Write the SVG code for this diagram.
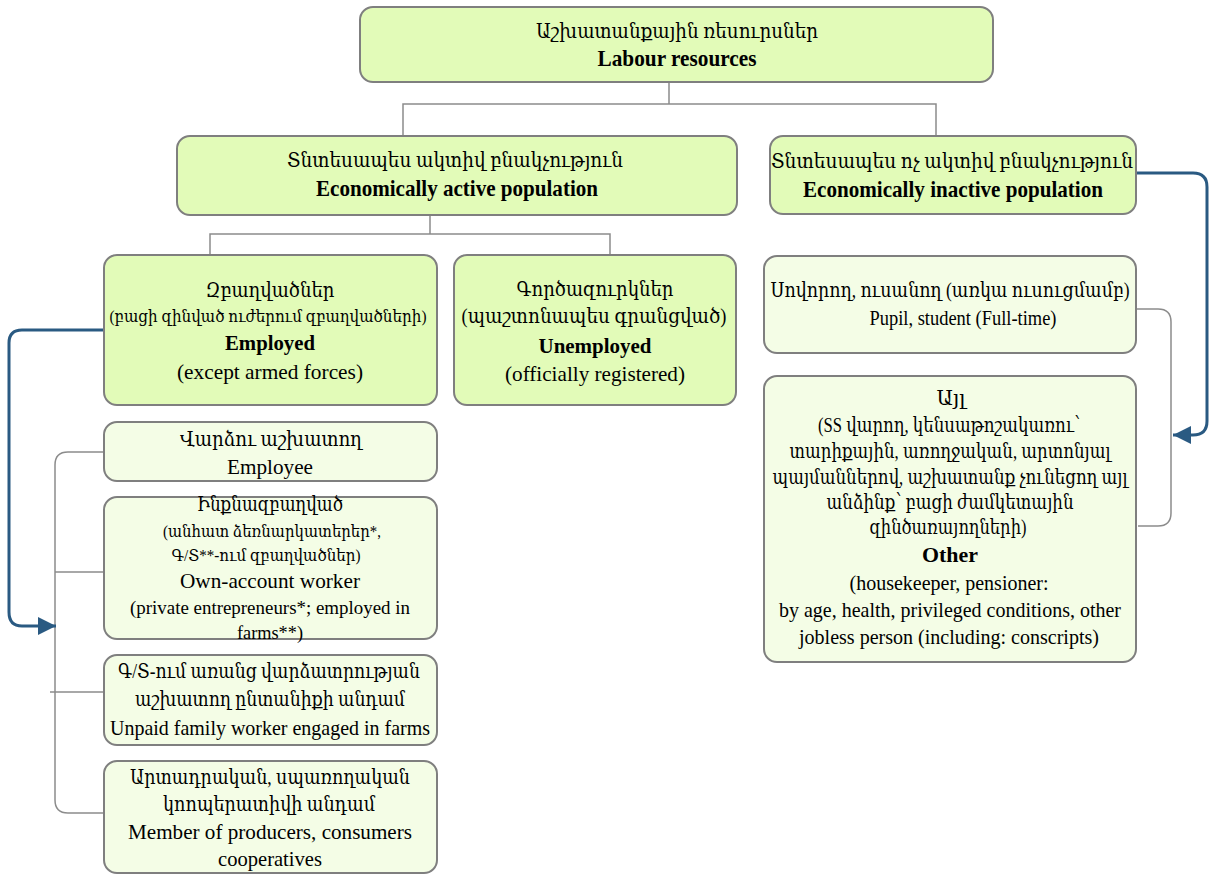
<svg xmlns="http://www.w3.org/2000/svg" width="1209" height="875" viewBox="0 0 1209 875">
<style>
.bx{fill:#e2fbb8;stroke:#7f7f7f;stroke-width:2}
.bl{fill:#f4fde6;stroke:#7f7f7f;stroke-width:2}
text{font-family:"Liberation Serif","DejaVu Serif",serif;fill:#000;text-anchor:middle}
.b{font-weight:bold}
.con{fill:none;stroke:#8c8c8c;stroke-width:1.5}
.blue{fill:none;stroke:#2a5a82;stroke-width:3}
</style>
<defs>
<marker id="ah" viewBox="0 0 10 10" refX="10" refY="5" markerWidth="18" markerHeight="18" markerUnits="userSpaceOnUse" orient="auto"><path d="M0,0 L10,5 L0,10 z" fill="#2a5a82"/></marker>
</defs>
<rect width="1209" height="875" fill="#fff"/>
<g id="connectors">
<path class="con" d="M669,82 V104 M403,136 V104 H936 V136"/>
<path class="con" d="M430,215 V234 M210,255 V234 H610 V255"/>
<path class="con" d="M1136,309 H1158 Q1171,309 1171,322 V513 Q1171,526 1158,526 H1138"/>
<path class="con" d="M104,452 H68 Q55,452 55,465 V800 Q55,813 68,813 H104 M55,572 H104 M50,692 H104"/>
<path class="blue" d="M104,330 H22 Q9,330 9,343 V612 Q9,626 22,626 H56" marker-end="url(#ah)"/>
<path class="blue" d="M1136,173 H1193 Q1207,173 1207,187 V421 Q1207,435 1193,435 H1173" marker-end="url(#ah)"/>
</g>
<g id="labour">
<rect class="bx" x="360" y="7" width="633" height="75" rx="13"/>
<text x="677" y="38" font-size="21" textLength="282" lengthAdjust="spacingAndGlyphs">Աշխատանքային ռեսուրսներ</text>
<text class="b" x="677" y="66" font-size="23" textLength="159" lengthAdjust="spacingAndGlyphs">Labour resources</text>
</g>
<g id="active">
<rect class="bx" x="177" y="136" width="560" height="79" rx="13"/>
<text x="455" y="167" font-size="21" textLength="336" lengthAdjust="spacingAndGlyphs">Տնտեսապես ակտիվ բնակչություն</text>
<text class="b" x="457" y="196" font-size="23" textLength="282" lengthAdjust="spacingAndGlyphs">Economically active population</text>
</g>
<g id="inactive">
<rect class="bx" x="770" y="136" width="366" height="78" rx="13"/>
<text x="952" y="168" font-size="21" textLength="362" lengthAdjust="spacingAndGlyphs">Տնտեսապես ոչ ակտիվ բնակչություն</text>
<text class="b" x="953" y="197" font-size="23" textLength="300" lengthAdjust="spacingAndGlyphs">Economically inactive population</text>
</g>
<g id="employed">
<rect class="bx" x="104" y="255" width="333" height="150" rx="13"/>
<text x="270" y="297" font-size="21" textLength="129" lengthAdjust="spacingAndGlyphs">Զբաղվածներ</text>
<text x="268" y="322" font-size="17" textLength="317" lengthAdjust="spacingAndGlyphs">(բացի զինված ուժերում զբաղվածների)</text>
<text class="b" x="270" y="350" font-size="22" textLength="90" lengthAdjust="spacingAndGlyphs">Employed</text>
<text x="270" y="379" font-size="22" textLength="186" lengthAdjust="spacingAndGlyphs">(except armed forces)</text>
</g>
<g id="unemployed">
<rect class="bx" x="454" y="255" width="282" height="150" rx="13"/>
<text x="595" y="296" font-size="21" textLength="157" lengthAdjust="spacingAndGlyphs">Գործազուրկներ</text>
<text x="594" y="323" font-size="20" textLength="265" lengthAdjust="spacingAndGlyphs">(պաշտոնապես գրանցված)</text>
<text class="b" x="595" y="353" font-size="22" textLength="113" lengthAdjust="spacingAndGlyphs">Unemployed</text>
<text x="595" y="381" font-size="22" textLength="180" lengthAdjust="spacingAndGlyphs">(officially registered)</text>
</g>
<g id="pupil">
<rect class="bl" x="764" y="256" width="372" height="97" rx="13"/>
<text x="950" y="297" font-size="20" textLength="359" lengthAdjust="spacingAndGlyphs">Սովորող, ուսանող (առկա ուսուցմամբ)</text>
<text x="963" y="325" font-size="21" textLength="187" lengthAdjust="spacingAndGlyphs">Pupil, student (Full-time)</text>
</g>
<g id="other">
<rect class="bl" x="764" y="376" width="372" height="286" rx="13"/>
<text x="951" y="405" font-size="20" textLength="29" lengthAdjust="spacingAndGlyphs">Այլ</text>
<text x="949" y="432" font-size="20" textLength="262" lengthAdjust="spacingAndGlyphs">(SS վարող, կենսաթոշակառու՝</text>
<text x="950" y="458" font-size="20" textLength="321" lengthAdjust="spacingAndGlyphs">տարիքային, առողջական, արտոնյալ</text>
<text x="950" y="484" font-size="20" textLength="355" lengthAdjust="spacingAndGlyphs">պայմաններով,  աշխատանք չունեցող այլ</text>
<text x="950" y="509" font-size="20" textLength="247" lengthAdjust="spacingAndGlyphs">անձինք՝ բացի  ժամկետային</text>
<text x="948" y="534" font-size="20" textLength="157" lengthAdjust="spacingAndGlyphs">զինծառայողների)</text>
<text class="b" x="950" y="562" font-size="22" textLength="56" lengthAdjust="spacingAndGlyphs">Other</text>
<text x="949" y="590" font-size="21" textLength="199" lengthAdjust="spacingAndGlyphs">(housekeeper, pensioner:</text>
<text x="950" y="617" font-size="21" textLength="342" lengthAdjust="spacingAndGlyphs">by age, health, privileged conditions, other</text>
<text x="949" y="644" font-size="21" textLength="300" lengthAdjust="spacingAndGlyphs">jobless person (including: conscripts)</text>
</g>
<g id="employee">
<rect class="bl" x="104" y="422" width="333" height="59" rx="13"/>
<text x="271" y="446" font-size="20" textLength="182" lengthAdjust="spacingAndGlyphs">Վարձու աշխատող</text>
<text x="270" y="474" font-size="22" textLength="86" lengthAdjust="spacingAndGlyphs">Employee</text>
</g>
<g id="ownaccount">
<rect class="bl" x="104" y="497" width="333" height="142" rx="13"/>
<text x="270" y="511" font-size="20" textLength="146" lengthAdjust="spacingAndGlyphs">Ինքնազբաղված</text>
<text x="272" y="537" font-size="17" textLength="218" lengthAdjust="spacingAndGlyphs">(անհատ ձեռնարկատերեր*,</text>
<text x="266" y="561" font-size="17" textLength="189" lengthAdjust="spacingAndGlyphs">Գ/Տ**-ում զբաղվածներ)</text>
<text x="270" y="588" font-size="22" textLength="180" lengthAdjust="spacingAndGlyphs">Own-account worker</text>
<text x="270" y="614" font-size="19" textLength="280" lengthAdjust="spacingAndGlyphs">(private entrepreneurs*; employed in</text>
<text x="270" y="639" font-size="19" textLength="66" lengthAdjust="spacingAndGlyphs">farms**)</text>
</g>
<g id="unpaid">
<rect class="bl" x="104" y="655" width="333" height="90" rx="13"/>
<text x="269" y="678" font-size="20" textLength="302" lengthAdjust="spacingAndGlyphs">Գ/Տ-ում առանց վարձատրության</text>
<text x="270" y="706" font-size="20" textLength="270" lengthAdjust="spacingAndGlyphs">աշխատող ընտանիքի անդամ</text>
<text x="270" y="735" font-size="21" textLength="320" lengthAdjust="spacingAndGlyphs">Unpaid family worker engaged in farms</text>
</g>
<g id="cooperative">
<rect class="bl" x="104" y="761" width="333" height="112" rx="13"/>
<text x="270" y="784" font-size="20" textLength="280" lengthAdjust="spacingAndGlyphs">Արտադրական, սպառողական</text>
<text x="269" y="811" font-size="20" textLength="212" lengthAdjust="spacingAndGlyphs">կոոպերատիվի անդամ</text>
<text x="270" y="839" font-size="21" textLength="284" lengthAdjust="spacingAndGlyphs">Member of producers, consumers</text>
<text x="270" y="866" font-size="21" textLength="104" lengthAdjust="spacingAndGlyphs">cooperatives</text>
</g>
</svg>
